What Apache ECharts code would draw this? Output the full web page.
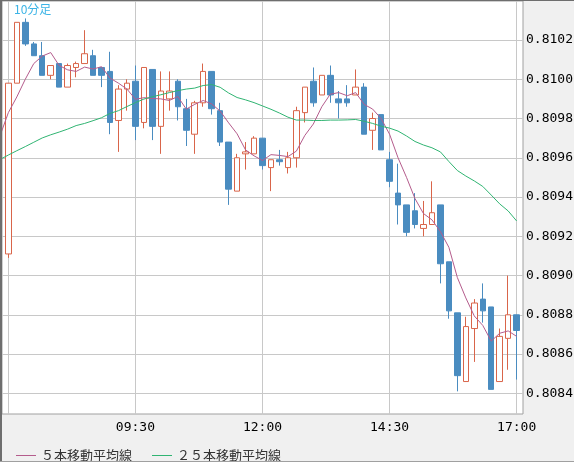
<!DOCTYPE html>
<html>
<head>
<meta charset="utf-8">
<script src="https://cdn.jsdelivr.net/npm/echarts@6/dist/echarts.min.js"></script>
<style>
  html, body { margin: 0; padding: 0; background: #f0f0f0; }
  #chart { width: 574px; height: 462px; }
</style>
</head>
<body>
<div id="chart"></div>
<script>
// 10分足 candles, bar 0 = 07:00, last bar = 17:00
var open = [0.80911,0.80998,0.81029,0.81018,0.81012,0.81002,0.81008,0.80996,0.81006,0.81008,
  0.81012,0.81006,0.81004,0.80979,0.80995,0.80999,0.80978,0.81005,0.80976,0.80990,
  0.80999,0.80985,0.80972,0.80988,0.81004,0.80984,0.80968,0.80943,0.80962,0.80962,
  0.80970,0.80955,0.80959,0.80955,0.80960,0.80983,0.80999,0.80992,0.81002,0.80990,
  0.80990,0.80992,0.80996,0.80974,0.80982,0.80959,0.80942,0.80936,0.80933,0.80924,
  0.80926,0.80936,0.80907,0.80881,0.80846,0.80873,0.80888,0.80884,0.80846,0.80868,
  0.80880];
var close = [0.80998,0.81029,0.81018,0.81012,0.81002,0.81007,0.80996,0.81007,0.81008,0.81013,
  0.81002,0.81002,0.80978,0.80995,0.80998,0.80976,0.81006,0.80976,0.80994,0.80994,
  0.80986,0.80974,0.80988,0.81004,0.80985,0.80968,0.80944,0.80960,0.80963,0.80970,
  0.80956,0.80959,0.80958,0.80960,0.80984,0.80996,0.80988,0.81002,0.80992,0.80988,
  0.80988,0.80996,0.80972,0.80980,0.80964,0.80948,0.80936,0.80922,0.80926,0.80926,
  0.80932,0.80906,0.80882,0.80849,0.80874,0.80886,0.80882,0.80842,0.80869,0.80880,
  0.80872];
var low = [0.80909,0.80998,0.81017,0.81012,0.81002,0.81000,0.80996,0.80996,0.81001,0.81008,
  0.81002,0.80996,0.80972,0.80963,0.80984,0.80969,0.80975,0.80969,0.80962,0.80984,
  0.80979,0.80966,0.80962,0.80986,0.80982,0.80966,0.80936,0.80943,0.80954,0.80962,
  0.80954,0.80943,0.80956,0.80952,0.80955,0.80978,0.80986,0.80992,0.80988,0.80980,
  0.80986,0.80992,0.80972,0.80964,0.80964,0.80945,0.80926,0.80920,0.80924,0.80920,
  0.80926,0.80896,0.80878,0.80841,0.80846,0.80856,0.80876,0.80842,0.80846,0.80852,
  0.80847];
var high = [0.80998,0.81029,0.81031,0.81019,0.81019,0.81007,0.81008,0.81008,0.81009,0.81025,
  0.81015,0.81006,0.81014,0.80997,0.81000,0.81007,0.81006,0.81005,0.81004,0.81004,
  0.81000,0.80990,0.80989,0.81008,0.81004,0.80988,0.80968,0.80962,0.80968,0.80971,
  0.80970,0.80959,0.80964,0.80963,0.80986,0.80996,0.81006,0.81002,0.81007,0.80994,
  0.80997,0.81005,0.80998,0.80983,0.80982,0.80963,0.80957,0.80936,0.80942,0.80938,
  0.80948,0.80936,0.80907,0.80881,0.80879,0.80888,0.80896,0.80884,0.80873,0.80900,
  0.80880];

// moving averages, first value is the bar before 07:00
var maStart = -1;
var ma5 = [0.809710,0.809830,0.809910,0.810000,0.810080,0.810118,0.810136,0.810070,0.810048,0.810040,
  0.810062,0.810052,0.810064,0.810006,0.809980,0.809950,0.809898,0.809906,0.809902,0.809900,
  0.809892,0.809912,0.809848,0.809872,0.809892,0.809874,0.809838,0.809778,0.809722,0.809640,
  0.809610,0.809586,0.809616,0.809612,0.809606,0.809634,0.809714,0.809772,0.809860,0.809924,
  0.809932,0.809916,0.809932,0.809872,0.809848,0.809800,0.809720,0.809600,0.809500,0.809392,
  0.809316,0.809284,0.809224,0.809144,0.808990,0.808886,0.808794,0.808746,0.808666,0.808706,
  0.808718,0.808690];
var ma25 = [0.809591,0.809614,0.809636,0.809657,0.809679,0.809701,0.809717,0.809731,0.809746,0.809764,
  0.809775,0.809789,0.809804,0.809826,0.809840,0.809861,0.809881,0.809899,0.809911,0.809921,
  0.809932,0.809942,0.809950,0.809955,0.809968,0.809973,0.809959,0.809930,0.809907,0.809895,
  0.809881,0.809864,0.809847,0.809828,0.809807,0.809792,0.809792,0.809790,0.809790,0.809792,
  0.809792,0.809793,0.809795,0.809786,0.809775,0.809761,0.809751,0.809736,0.809711,0.809683,
  0.809665,0.809651,0.809630,0.809581,0.809535,0.809507,0.809482,0.809454,0.809410,0.809365,
  0.809329,0.809278];

var xGridIdx = [0, 15, 30, 45, 60];
var xLabelIdx = [15, 30, 45, 60];
var xLabelText = ['09:30', '12:00', '14:30', '17:00'];
var yTicks = [0.8084, 0.8086, 0.8088, 0.8090, 0.8092, 0.8094, 0.8096, 0.8098, 0.8100, 0.8102];

var chart = echarts.init(document.getElementById('chart'));

var candles = open.map(function (o, i) {
  return [i, o, close[i], low[i], high[i]];
});
var ma5Data = ma5.map(function (v, i) { return [i + maStart, v]; });
var ma25Data = ma25.map(function (v, i) { return [i + maStart, v]; });

var option = {
  animation: false,
  backgroundColor: '#f0f0f0',
  title: {
    text: '10分足',
    left: 9,
    top: -2,
    textStyle: { color: '#3cb4e6', fontSize: 12, fontWeight: 'normal', fontFamily: 'Noto Sans CJK JP' }
  },
  legend: {
    left: 11,
    top: 444,
    icon: 'rect',
    itemWidth: 20,
    itemHeight: 1,
    itemGap: 20,
    textStyle: { color: '#333', fontSize: 13, fontFamily: 'Noto Sans CJK JP' },
    data: ['５本移動平均線', '２５本移動平均線']
  },
  grid: {
    left: 2,
    right: 51,
    top: 1,
    bottom: 48,
    show: true,
    backgroundColor: '#ffffff',
    borderColor: '#a0a0a0',
    borderWidth: 1,
    outerBoundsMode: 'none'
  },
  graphic: [
    { type: 'rect', left: 0, top: 0, shape: { width: 2, height: 462 }, style: { fill: '#6e6e6e' }, z: 100 },
    { type: 'rect', left: 0, top: 0, shape: { width: 574, height: 1 }, style: { fill: '#6e6e6e' }, z: 100 },
    { type: 'rect', left: 0, top: 461, shape: { width: 574, height: 1 }, style: { fill: '#a0a0a0' }, z: 100 }
  ],
  xAxis: {
    type: 'value',
    min: -0.75,
    max: 60.75,
    axisLine: { show: false },
    axisTick: { show: false, customValues: xGridIdx },
    axisLabel: {
      customValues: xLabelIdx,
      margin: 7,
      color: '#000',
      fontSize: 13,
      fontFamily: 'DejaVu Sans Mono',
      formatter: function (v) {
        var k = xLabelIdx.indexOf(Math.round(v));
        return k >= 0 ? xLabelText[k] : '';
      }
    },
    splitLine: { show: true, lineStyle: { color: '#c8c8c8', width: 1 } }
  },
  yAxis: {
    type: 'value',
    position: 'right',
    min: 0.8082946,
    max: 0.8103987,
    scale: true,
    axisLine: { show: false },
    axisTick: { show: false, customValues: yTicks },
    axisLabel: {
      customValues: yTicks,
      margin: 3,
      color: '#000',
      fontSize: 13,
      fontFamily: 'DejaVu Sans Mono',
      formatter: function (v) { return v.toFixed(4); }
    },
    splitLine: { show: true, lineStyle: { color: '#c8c8c8', width: 1 } }
  },
  series: [
    {
      name: 'candles',
      type: 'candlestick',
      barWidth: 6,
      data: candles,
      itemStyle: {
        color: '#ffffff',
        color0: '#4a8cc0',
        borderColor: '#d9654a',
        borderColor0: '#4a8cc0',
        borderWidth: 1
      }
    },
    {
      name: '５本移動平均線',
      type: 'line',
      data: ma5Data,
      symbol: 'none',
      z: 5,
      lineStyle: { color: '#b45c8c', width: 1 },
      itemStyle: { color: '#b45c8c' }
    },
    {
      name: '２５本移動平均線',
      type: 'line',
      data: ma25Data,
      symbol: 'none',
      z: 5,
      lineStyle: { color: '#30b472', width: 1 },
      itemStyle: { color: '#30b472' }
    }
  ]
};

chart.setOption(option);
</script>
</body>
</html>
